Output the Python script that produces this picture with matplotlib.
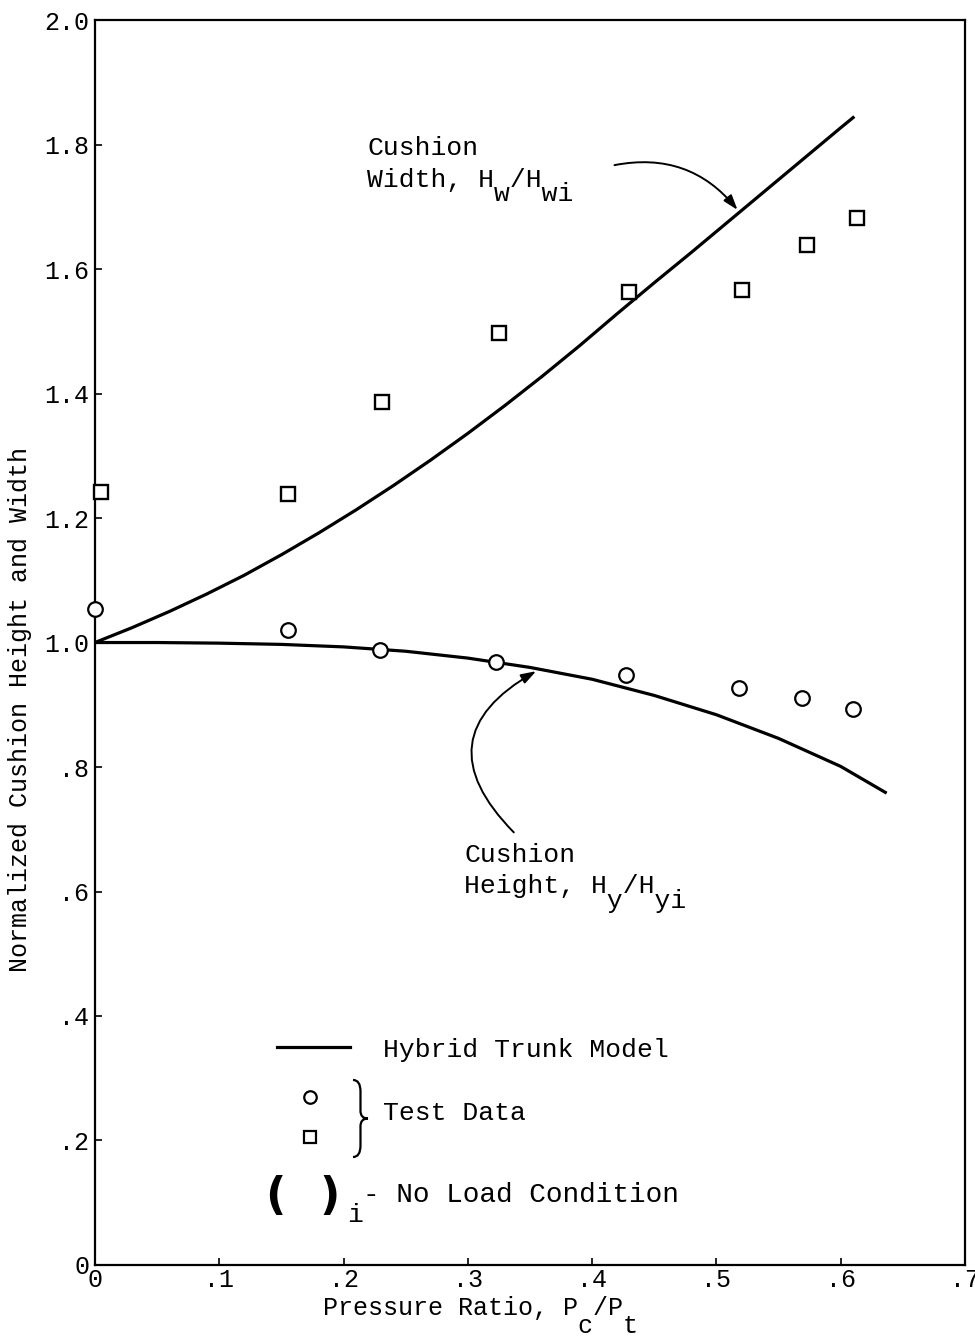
from __future__ import annotations

import matplotlib

matplotlib.use("Agg")
import matplotlib.pyplot as plt
from matplotlib.patches import PathPatch
from matplotlib.path import Path

MONO = ["Liberation Mono", "DejaVu Sans Mono"]

# test data (pressure ratio Pc/Pt)
WIDTH_TEST_X = [0.005, 0.155, 0.231, 0.325, 0.430, 0.521, 0.573, 0.613]
WIDTH_TEST_Y = [1.242, 1.239, 1.386, 1.497, 1.563, 1.566, 1.639, 1.682]
HEIGHT_TEST_X = [0.0, 0.155, 0.229, 0.323, 0.427, 0.518, 0.569, 0.610]
HEIGHT_TEST_Y = [1.054, 1.020, 0.988, 0.969, 0.948, 0.927, 0.911, 0.893]

# hybrid trunk model curves
WIDTH_MODEL_X = [0.0, 0.03, 0.06, 0.09, 0.12, 0.15, 0.18, 0.21, 0.24, 0.27, 0.30,
                 0.33, 0.36, 0.39, 0.42, 0.45, 0.48, 0.51, 0.54, 0.57, 0.60, 0.611]
WIDTH_MODEL_Y = [1.000, 1.024, 1.050, 1.078, 1.108, 1.141, 1.176, 1.213, 1.252, 1.293, 1.336,
                 1.381, 1.428, 1.477, 1.528, 1.578, 1.627, 1.677, 1.727, 1.777, 1.827, 1.845]
HEIGHT_MODEL_X = [0.0, 0.05, 0.10, 0.15, 0.20, 0.25, 0.30, 0.35, 0.40, 0.45, 0.50,
                  0.55, 0.60, 0.637]
HEIGHT_MODEL_Y = [1.000, 1.000, 0.999, 0.997, 0.993, 0.986, 0.975, 0.960, 0.941, 0.915, 0.884,
                  0.846, 0.801, 0.758]

X_TICKS = [0.0, 0.1, 0.2, 0.3, 0.4, 0.5, 0.6, 0.7]
X_TICK_LABELS = ["0", ".1", ".2", ".3", ".4", ".5", ".6", ".7"]
Y_TICKS = [0.0, 0.2, 0.4, 0.6, 0.8, 1.0, 1.2, 1.4, 1.6, 1.8, 2.0]
Y_TICK_LABELS = ["0", ".2", ".4", ".6", ".8", "1.0", "1.2", "1.4", "1.6", "1.8", "2.0"]


def main() -> None:
    plt.rcParams["font.family"] = MONO
    fig = plt.figure(figsize=(9.75, 13.4), dpi=100)
    ax = fig.add_axes([0.0974, 0.056, 0.8923, 0.929])

    ax.plot(WIDTH_MODEL_X, WIDTH_MODEL_Y, color="black", lw=2.3, solid_capstyle="butt",
            solid_joinstyle="round", zorder=2)
    ax.plot(HEIGHT_MODEL_X, HEIGHT_MODEL_Y, color="black", lw=2.3, solid_capstyle="butt",
            solid_joinstyle="round", zorder=2)
    ax.plot(WIDTH_TEST_X, WIDTH_TEST_Y, ls="none", marker="s", ms=9.5, mfc="white",
            mec="black", mew=1.7, clip_on=False, zorder=3)
    ax.plot(HEIGHT_TEST_X, HEIGHT_TEST_Y, ls="none", marker="o", ms=10.5, mfc="white",
            mec="black", mew=1.6, clip_on=False, zorder=3)

    ax.set_xlim(0, 0.7)
    ax.set_ylim(0, 2.0)
    ax.set_xticks(X_TICKS)
    ax.set_xticklabels(X_TICK_LABELS)
    ax.set_yticks(Y_TICKS)
    ax.set_yticklabels(Y_TICK_LABELS)
    ax.tick_params(direction="in", length=5, width=1.2, labelsize=18, pad=4)
    ax.tick_params(axis="x", pad=2)
    for spine in ax.spines.values():
        spine.set_linewidth(1.6)

    _sub_text(ax, 0.219, 1.783, "Cushion", "", 0)
    _sub_text(ax, 0.219, 1.732, "Width, H /H", "        w  wi", 10)
    _sub_text(ax, 0.297, 0.647, "Cushion", "", 0)
    _sub_text(ax, 0.297, 0.598, "Height, H /H", "         y  yi", 11)

    arrow = dict(arrowstyle="-|>,head_length=0.9,head_width=0.3", color="black", lw=1.4,
                 shrinkA=0, shrinkB=0)
    ax.annotate("", xy=(0.517, 1.695), xytext=(0.418, 1.767),
                arrowprops=dict(arrow, connectionstyle="arc3,rad=-0.3"))
    ax.annotate("", xy=(0.355, 0.954), xytext=(0.337, 0.695),
                arrowprops=dict(arrow, connectionstyle="arc3,rad=-0.65"))

    _draw_legend(ax)

    t = ax.transAxes
    ax.text(-0.086, 0.446, "Normalized Cushion Height and Width", transform=t, rotation=90,
            ha="center", va="center", fontsize=18)
    ax.text(0.262, -0.0402, "Pressure Ratio, P /P", transform=t, ha="left",
            va="baseline", fontsize=18)
    ax.annotate("                 c  t", xy=(0.262, -0.0402), xycoords=t, xytext=(0, -13),
                textcoords="offset points", ha="left", va="baseline", fontsize=18)

    fig.savefig("out.png", dpi=100)
    plt.close(fig)


def _sub_text(ax, x: float, y: float, main_text: str, sub: str, drop: float,
              size: float = 19) -> None:
    ax.text(x, y, main_text, ha="left", va="baseline", fontsize=size)
    if sub:
        ax.annotate(sub, xy=(x, y), xytext=(0, -drop), textcoords="offset points",
                    ha="left", va="baseline", fontsize=size)


def _brace(ax, x: float, y0: float, y1: float, w: float) -> None:
    h = y1 - y0
    ym = (y0 + y1) / 2
    xm = x + 0.5 * w
    verts = [
        (x, y1), (xm, y1), (xm, y1 - 0.15 * h),
        (xm, ym + 0.1 * h),
        (xm, ym), (x + w, ym),
        (xm, ym), (xm, ym - 0.1 * h),
        (xm, y0 + 0.15 * h),
        (xm, y0), (x, y0),
    ]
    codes = [Path.MOVETO, Path.CURVE3, Path.CURVE3, Path.LINETO, Path.CURVE3, Path.CURVE3,
             Path.CURVE3, Path.CURVE3, Path.LINETO, Path.CURVE3, Path.CURVE3]
    ax.add_patch(PathPatch(Path(verts, codes), transform=ax.transAxes, fill=False,
                           lw=1.6, color="black"))


def _draw_legend(ax) -> None:
    t = ax.transAxes
    ax.plot([0.209, 0.293], [0.175, 0.175], color="black", lw=2.3, transform=t)
    ax.text(0.331, 0.167, "Hybrid Trunk Model", transform=t, ha="left", va="baseline", fontsize=19)
    ax.plot([0.247], [0.135], marker="o", ms=9, mfc="white", mec="black", mew=1.6, transform=t)
    ax.plot([0.247], [0.103], marker="s", ms=8.5, mfc="white", mec="black", mew=1.6, transform=t)
    _brace(ax, 0.2966, 0.0867, 0.1486, 0.0172)
    ax.text(0.331, 0.1165, "Test Data", transform=t, ha="left", va="baseline", fontsize=19)
    ax.text(0.207, 0.0546, "(", transform=t, ha="center", va="center", fontsize=32,
            fontweight="bold", family="DejaVu Sans")
    ax.text(0.270, 0.0546, ")", transform=t, ha="center", va="center", fontsize=32,
            fontweight="bold", family="DejaVu Sans")
    ax.text(0.290, 0.0345, "i", transform=t, ha="left", va="baseline", fontsize=19)
    ax.text(0.308, 0.0506, "- No Load Condition", transform=t, ha="left", va="baseline",
            fontsize=20)


if __name__ == "__main__":
    main()
